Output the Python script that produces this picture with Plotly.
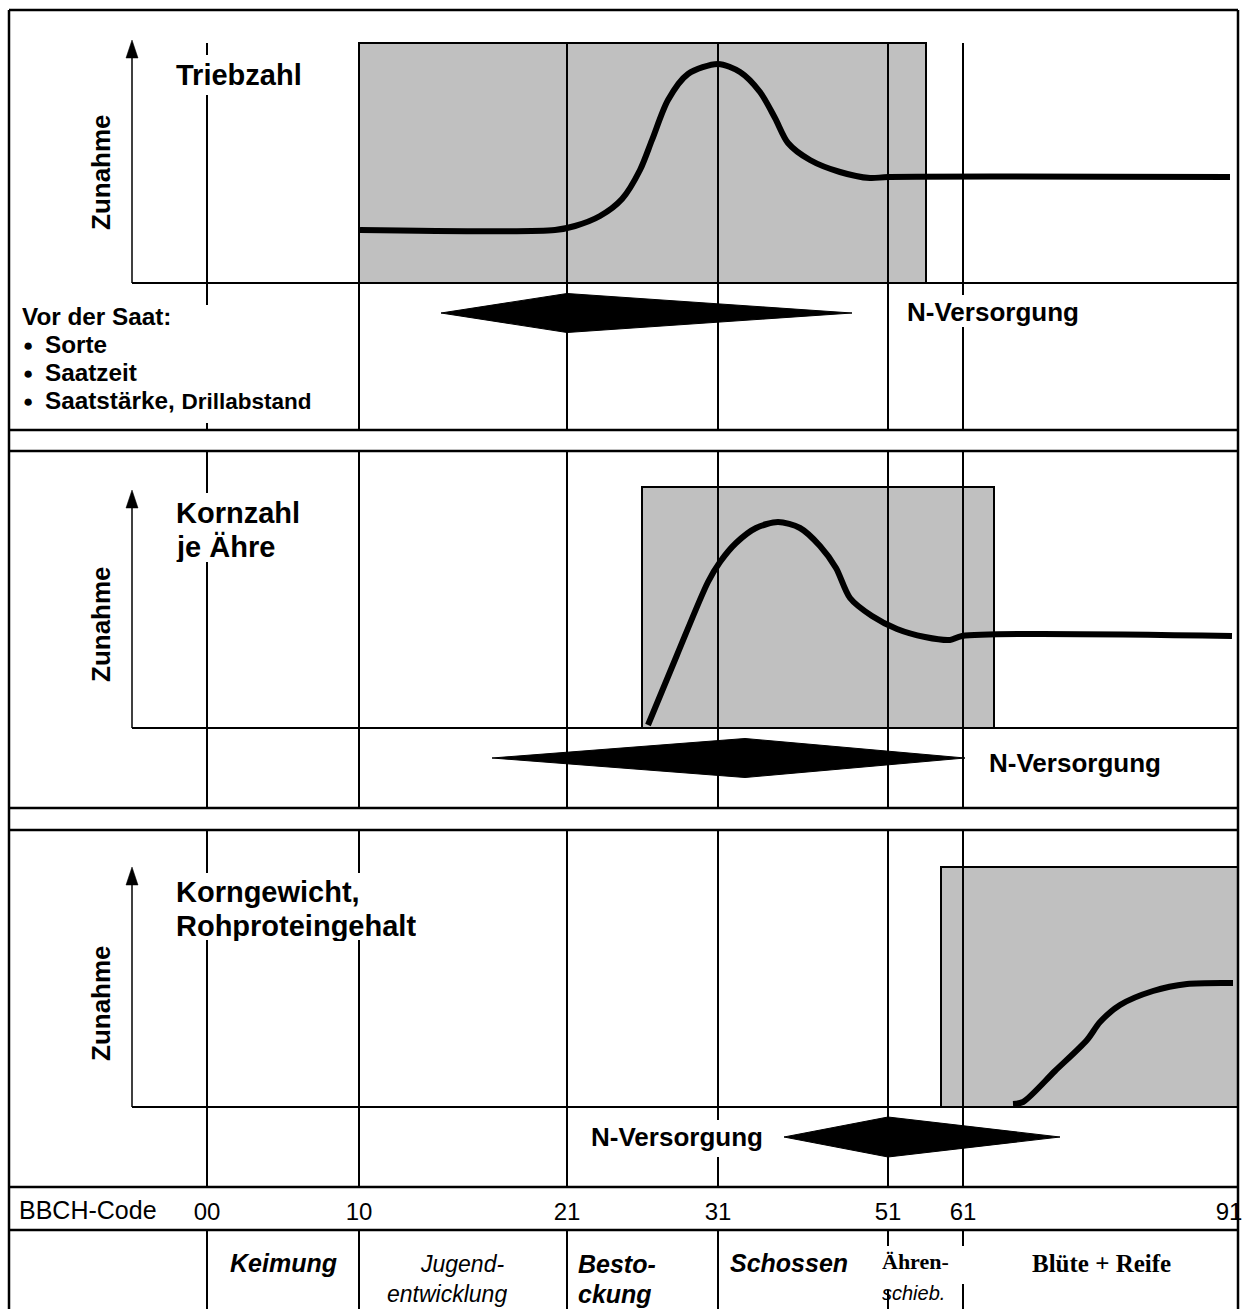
import plotly.graph_objects as go

# ---------------- data (diagram units: 1 unit = 1 px of the reference) -------------
bbch_codes = ["00", "10", "21", "31", "51", "61", "91"]
bbch_pos = [207, 359, 567, 718, 888, 963, 1229]

# Panel 1: Triebzahl
trieb_x = [360, 555, 575, 600, 622, 640, 652, 668, 688, 718, 740, 760, 775, 788, 810, 840, 870, 888, 1230]
trieb_y = [230, 230, 226, 216, 199, 170, 140, 100, 74, 64, 72, 92, 118, 143, 160, 172, 178, 177, 177]

# Panel 2: Kornzahl je Ähre
korn_x = [648, 677, 708, 720, 736, 756, 778, 800, 820, 836, 850, 872, 897, 925, 950, 962, 1232]
korn_y = [725, 655, 582, 562, 543, 528, 522, 528, 546, 568, 598, 616, 629, 637, 640, 636, 636]

# Panel 3: Korngewicht, Rohproteingehalt
kg_x = [1013, 1023, 1055, 1087, 1100, 1120, 1153, 1187, 1233]
kg_y = [1104, 1102, 1071, 1040, 1022, 1005, 991, 984, 983]

# N-Versorgung periods: start, peak, end, centre y, half height
n_start = [441, 492, 784]
n_peak = [567, 745, 888]
n_end = [852, 965, 1060]
n_y = [313, 758, 1137]
n_half = [19.5, 19.5, 20]

# sensitive periods (grey boxes): x0, x1, y0, y1
grey_x0 = [359, 642, 941]
grey_x1 = [926, 994, 1238]
grey_y0 = [43, 487, 867]
grey_y1 = [283, 728, 1107]

# pre-sowing factors
vor_saat = ["Sorte", "Saatzeit", "Saatstärke, <span style='font-size:22.5px'>Drillabstand</span>"]

W, H = 1247, 1309
LEFT, RIGHT, TOP = 9, 1238, 10
FONT = "Liberation Sans, Arial, sans-serif"
SERIF = "Liberation Serif, Times New Roman, serif"

fig = go.Figure()
shapes = []


def hline(y, x0=LEFT, x1=RIGHT, w=2.5):
    shapes.append(dict(type="line", xref="x", yref="y", x0=x0, x1=x1, y0=y, y1=y,
                       line=dict(color="black", width=w), layer="below"))


def vline(x, segs, w=2):
    for a, b in segs:
        shapes.append(dict(type="line", xref="x", yref="y", x0=x, x1=x, y0=a, y1=b,
                           line=dict(color="black", width=w), layer="below"))


# grey boxes
for x0, x1, y0, y1 in zip(grey_x0, grey_x1, grey_y0, grey_y1):
    shapes.append(dict(type="rect", xref="x", yref="y", x0=x0, x1=x1, y0=y0, y1=y1,
                       fillcolor="#c0c0c0", line=dict(color="black", width=2), layer="below"))

# frame
hline(TOP)
for y in [430, 451, 808, 830, 1187, 1230]:
    hline(y)
vline(LEFT, [(TOP, H)], w=2.5)
vline(RIGHT, [(TOP, H)], w=2.5)

# baselines
for y in grey_y1:
    hline(y, x0=132, x1=RIGHT, w=2)

# vertical phase lines (with gaps for text)
vline(207, [(43, 55), (95, 305), (423, 430), (451, 493), (562, 808), (830, 873), (940, 1187), (1230, H)])
vline(359, [(43, 430), (451, 808), (830, 873), (940, 1187), (1230, H)])
vline(567, [(43, 430), (451, 808), (830, 1187), (1230, H)])
vline(718, [(43, 430), (451, 808), (830, 1120), (1157, 1187), (1230, H)])
vline(888, [(43, 430), (451, 808), (830, 1187), (1230, 1246), (1290, H)])
vline(963, [(43, 295), (327, 430), (451, 808), (830, 1187), (1230, 1246), (1284, H)])

# y-axis arrows
for tip, base in zip([40, 490, 867], grey_y1):
    shapes.append(dict(type="line", xref="x", yref="y", x0=132, x1=132, y0=base, y1=tip + 16,
                       line=dict(color="black", width=1.5), layer="below"))
    shapes.append(dict(type="path", xref="x", yref="y",
                       path=f"M 126 {tip + 18} L 132 {tip} L 138 {tip + 18} Z",
                       fillcolor="black", line=dict(color="black", width=0.5), layer="below"))
    hline(base, x0=132, x1=207, w=1.5)

fig.update_layout(shapes=shapes)

# curves
for xs, ys in [(trieb_x, trieb_y), (korn_x, korn_y), (kg_x, kg_y)]:
    fig.add_trace(go.Scatter(x=xs, y=ys, mode="lines",
                             line=dict(color="black", width=6, shape="spline", smoothing=0.8),
                             hoverinfo="skip", showlegend=False))

# N-Versorgung diamonds
for s, p, e, y, h in zip(n_start, n_peak, n_end, n_y, n_half):
    fig.add_trace(go.Scatter(x=[s, p, e, p, s], y=[y, y - h, y, y + h, y], mode="lines",
                             fill="toself", fillcolor="black", line=dict(color="black", width=1),
                             hoverinfo="skip", showlegend=False))

# invisible trace for the BBCH axis
fig.add_trace(go.Scatter(x=bbch_pos, y=[1210] * len(bbch_pos), xaxis="x2", mode="markers",
                         marker=dict(opacity=0), hoverinfo="skip", showlegend=False))

ann = []


def txt(x, y, t, size, bold=True, italic=False, anchor="left", family=FONT, angle=0, height=None):
    s = t
    if bold:
        s = "<b>" + s + "</b>"
    if italic:
        s = "<i>" + s + "</i>"
    a = dict(x=x, y=y, xref="x", yref="y", text=s, showarrow=False, xanchor=anchor,
             yanchor="middle", textangle=angle, borderpad=0,
             font=dict(family=family, size=size, color="black"))
    if height is not None:
        a["height"] = height
        a["valign"] = "middle"
    ann.append(a)


# titles
txt(175, 75, "Triebzahl", 29)
txt(175, 513, "Kornzahl", 29)
txt(175, 546, "je Ähre", 29, height=31)
txt(175, 892, "Korngewicht,", 29)
txt(175, 925, "Rohproteingehalt", 29, height=31)
for yc in [172, 624, 1003]:
    txt(101, yc, "Zunahme", 26, anchor="center", angle=-90)

# Vor der Saat
txt(21, 316, "Vor der Saat:", 24.3)
for i, t in enumerate(vor_saat):
    yc = 344 + 28 * i
    txt(22, yc + 1, "●", 17, bold=False)
    txt(44, yc, t, 24.3)

# N-Versorgung labels
txt(906, 312, "N-Versorgung", 26)
txt(988, 763, "N-Versorgung", 26)
txt(590, 1137, "N-Versorgung", 26)

# BBCH label
txt(18, 1210, "BBCH-Code", 25, bold=False)

# phase labels
txt(283, 1263, "Keimung", 25, italic=True, anchor="center")
txt(462, 1264, "Jugend-", 23, bold=False, italic=True, anchor="center", height=28)
txt(447, 1294, "entwicklung", 23, bold=False, italic=True, anchor="center", height=28)
txt(577, 1264, "Besto-", 25, italic=True, height=28)
txt(577, 1294, "ckung", 25, italic=True, height=28)
txt(729, 1263, "Schossen", 25, italic=True)
txt(881, 1261, "Ähren-", 22, family=SERIF, height=28)
txt(881, 1293, "schieb.", 20, bold=False, italic=True, height=26)
txt(1101, 1263, "Blüte + Reife", 25, anchor="center", family=SERIF)

fig.update_layout(
    annotations=ann,
    width=W, height=H,
    margin=dict(l=0, r=0, t=0, b=0, pad=0),
    paper_bgcolor="white", plot_bgcolor="white",
    showlegend=False,
    xaxis=dict(range=[0, W], visible=False, fixedrange=True),
    yaxis=dict(range=[H, 0], visible=False, fixedrange=True),
    xaxis2=dict(range=[0, W], overlaying="x", anchor="free", position=(H - 1195) / H,
                side="bottom", tickvals=bbch_pos, ticktext=bbch_codes, ticks="",
                showgrid=False, zeroline=False, showline=False, fixedrange=True,
                tickfont=dict(family=FONT, size=24, color="black")),
)

fig.write_html("out.html", config={"displayModeBar": False},
               post_script="document.body.style.margin='0px';")
